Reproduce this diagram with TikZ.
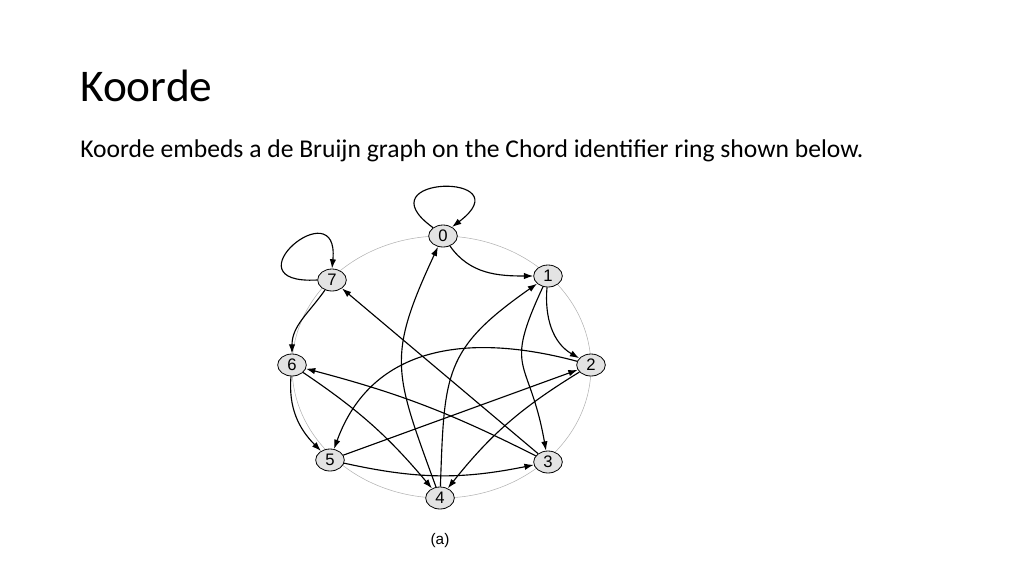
\documentclass[tikz,border=0pt]{standalone}
\usepackage{fontspec}
\setmainfont{Carlito}
\newfontfamily\nodefont{Liberation Sans}
\usetikzlibrary{arrows.meta,shapes.geometric}

\begin{document}
\begin{tikzpicture}[x=0.75pt, y=0.75pt,
    vtx/.style={ellipse, draw, line width=0.6pt, fill=gray!22, minimum width=21.5pt,
        minimum height=16.5pt, inner sep=0pt, font=\nodefont\fontsize{12.5}{12.5}\selectfont},
    edge/.style={-{Latex[length=7pt,width=4.8pt]}, line width=0.85pt}]
    \useasboundingbox (0,0) rectangle (1024,-576);

    % Title and text
    \node[anchor=base west, inner sep=0pt, font=\fontsize{34}{40}\selectfont] (title) at (80,-101) {Koorde};
    \node[anchor=base west, inner sep=0pt, font=\fontsize{19.2}{23}\selectfont] (intro) at (80,-157)
        {Koorde embeds a de Bruijn graph on the Chord identifier ring shown below.};

    % The identifier ring
    \draw[gray!60, line width=0.4pt] (441.5,-367) ellipse [x radius=112.1pt, y radius=98.25pt];

    % The nodes
    \foreach \n/\x/\y in {0/443/236, 1/548/276, 2/591/365, 3/548/462,
                          4/440/498, 5/330/460, 6/292/365, 7/332/280} {
        \node[vtx] (n\n) at (\x,-\y) {\n};
    }

    % Self loops
    \draw[edge] (n0.140) .. controls (360,-175) and (525,-172) .. (n0.45);
    \draw[edge] (n7.west) .. controls (225,-285) and (340,-188) .. (n7.north);

    % 0 -> 1
    \draw[edge] (n0) to[out=-55, in=180] (n1);
    % 1 -> 2, 1 -> 3
    \draw[edge] (n1) to[out=-95, in=150] (n2);
    \draw[edge] (n1) to[out=-115, in=100, looseness=1.5] (n3);
    % 2 -> 4, 2 -> 5
    \draw[edge] (n2) to[bend right=10] (n4);
    \draw[edge] (n2) to[out=165, in=70, looseness=1.1] (n5);
    % 3 -> 6, 3 -> 7
    \draw[edge] (n3) to[bend right=6] (n6);
    \draw[edge] (n3) -- (n7);
    % 4 -> 0, 4 -> 1
    \draw[edge] (n4) to[out=110, in=-115, looseness=1.3] (n0);
    \draw[edge] (n4) to[out=88, in=-145, looseness=1.3] (n1);
    % 5 -> 2, 5 -> 3
    \draw[edge] (n5) -- (n2);
    \draw[edge] (n5) to[bend right=12] (n3);
    % 6 -> 4, 6 -> 5
    \draw[edge] (n6) to[bend left=8] (n4);
    \draw[edge] (n6) to[out=-95, in=135] (n5);
    % 7 -> 6
    \draw[edge] (n7) to[out=-125, in=90] (n6);

    % Caption
    \node[font=\nodefont\fontsize{11.5}{13}\selectfont] (cap) at (440,-541) {(a)};
\end{tikzpicture}
\end{document}
